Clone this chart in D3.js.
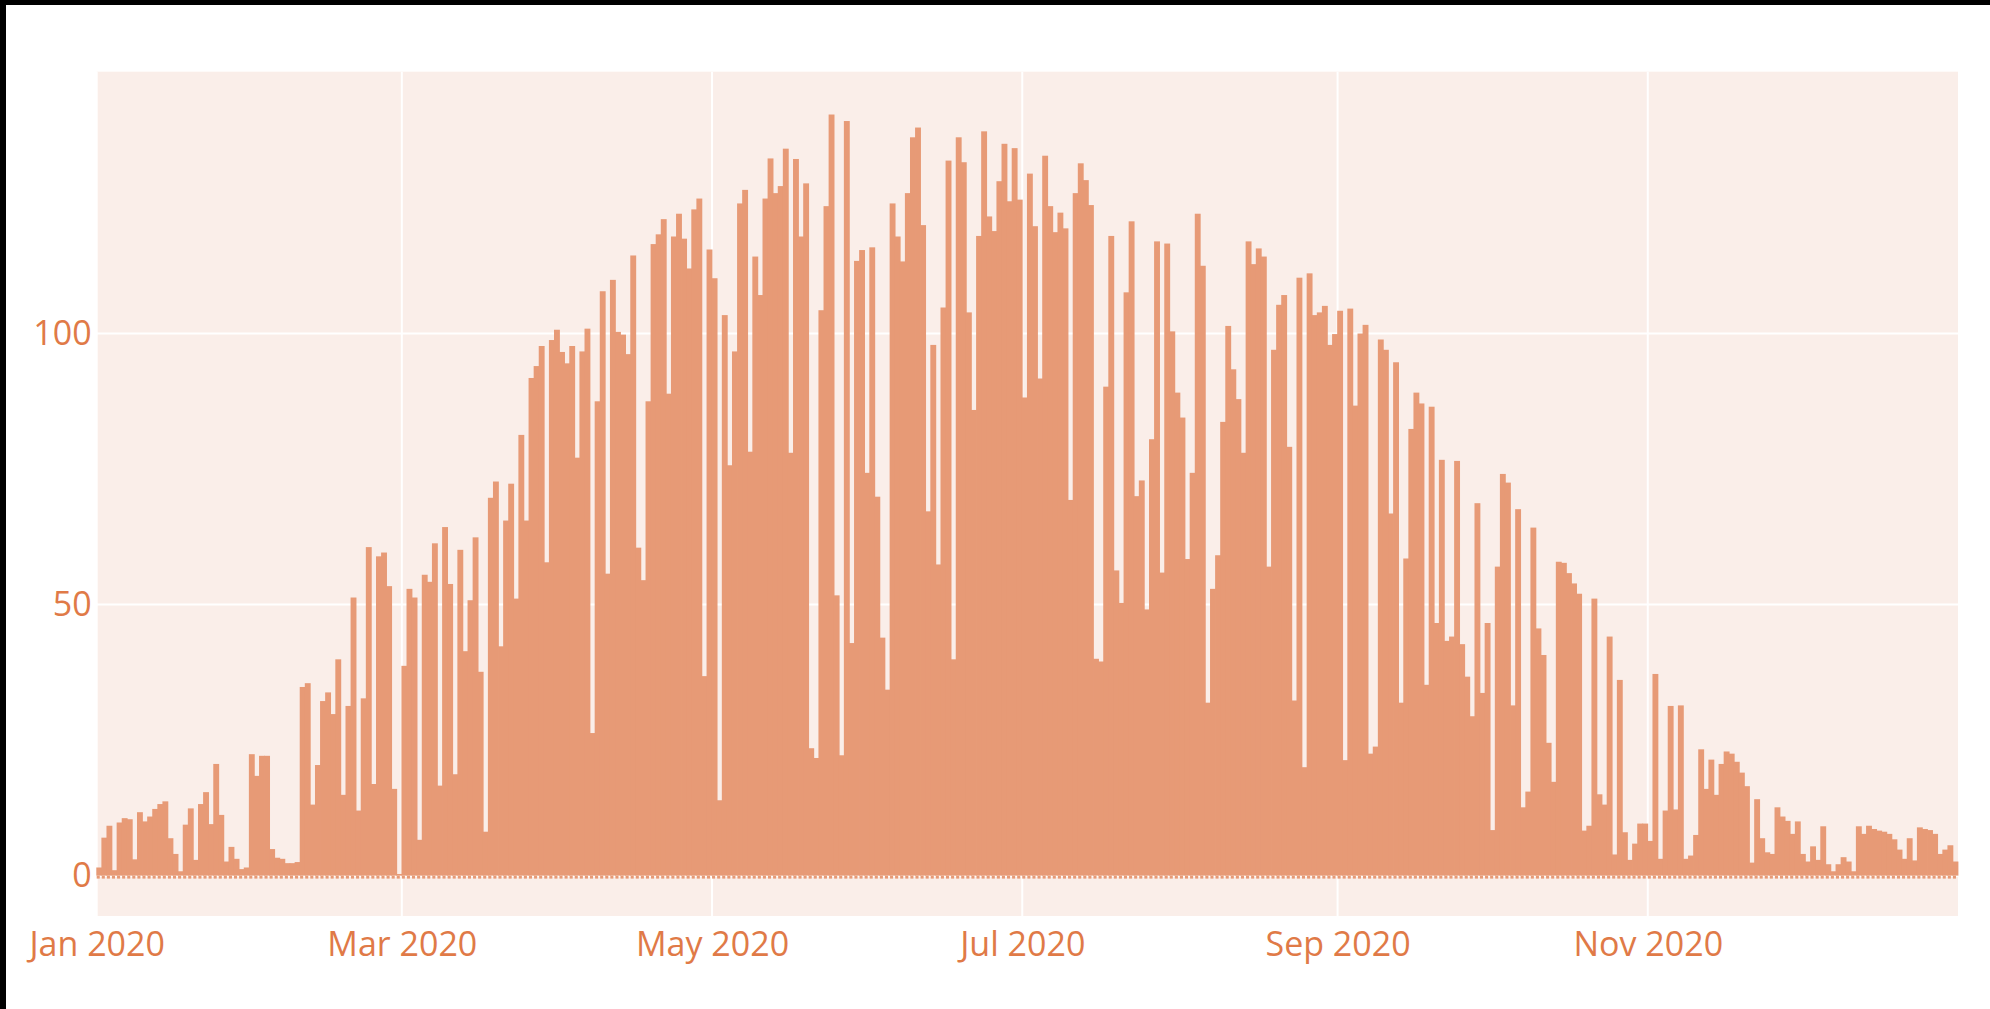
<!DOCTYPE html>
<html>
<head>
<meta charset="utf-8">
<script src="https://cdn.jsdelivr.net/npm/d3@7"></script>
<style>
  html, body { margin: 0; padding: 0; background: #fff; }
  svg { display: block; }
</style>
</head>
<body>
<div id="chart"></div>
<script>
// daily values, one array per month (2020)
const janValues = [1.5, 7, 9.2, 1, 9.8, 10.6, 10.4, 3.0, 11.7, 10.0, 10.9, 12.3, 13.2, 13.7, 6.9, 4.0, 0.8, 9.4, 12.4, 2.9, 13.2, 15.4, 9.5, 20.6, 11.2, 2.6, 5.3, 3.1, 1.2, 1.5, 22.4];
const febValues = [18.4, 22.1, 22.1, 4.9, 3.3, 3.1, 2.3, 2.3, 2.5, 34.8, 35.5, 13.1, 20.4, 32.2, 33.8, 29.8, 39.9, 14.9, 31.3, 51.3, 12.0, 32.7, 60.6, 16.9, 58.9, 59.6, 53.4, 16.0, 0.3];
const marValues = [38.7, 52.9, 51.3, 6.6, 55.5, 54.2, 61.3, 16.6, 64.3, 53.8, 18.7, 60.1, 41.4, 50.8, 62.4, 37.6, 8.1, 69.7, 72.7, 42.3, 65.5, 72.3, 51.1, 81.3, 65.5, 91.8, 94.0, 97.7, 57.8, 98.8, 100.7];
const aprValues = [96.6, 94.5, 97.7, 77.1, 96.7, 100.9, 26.3, 87.5, 107.8, 55.7, 109.9, 100.3, 99.8, 96.2, 114.4, 60.5, 54.5, 87.5, 116.5, 118.3, 121.1, 88.9, 117.9, 122.1, 117.5, 112.0, 122.9, 124.9, 36.8, 115.5];
const mayValues = [110.2, 13.9, 103.4, 75.7, 96.7, 124.0, 126.5, 78.2, 114.2, 107.1, 124.9, 132.3, 125.9, 127.2, 134.1, 78.0, 132.2, 117.9, 127.7, 23.5, 21.7, 104.3, 123.5, 140.4, 51.7, 22.2, 139.2, 42.9, 113.4, 115.4, 74.3];
const junValues = [115.9, 69.9, 43.9, 34.3, 124.0, 117.9, 113.3, 125.9, 136.2, 138.0, 120.0, 67.2, 97.9, 57.4, 104.8, 131.9, 39.9, 136.2, 131.6, 103.9, 85.9, 118.0, 137.3, 121.6, 118.9, 128.1, 135.0, 124.4, 134.2, 124.7];
const julValues = [88.2, 129.5, 119.8, 91.7, 132.8, 123.5, 118.7, 122.3, 119.4, 69.3, 125.9, 131.4, 128.3, 123.7, 40.0, 39.5, 90.2, 118.0, 56.3, 50.3, 107.6, 120.7, 70.0, 72.9, 49.1, 80.5, 117.0, 55.9, 116.6, 100.4, 89.1];
const augValues = [84.5, 58.4, 74.3, 122.1, 112.5, 31.9, 52.9, 59.1, 83.7, 101.4, 93.4, 87.9, 78.0, 117.0, 112.8, 115.7, 114.2, 57.0, 97.0, 105.3, 107.1, 79.1, 32.3, 110.3, 20.0, 111.1, 103.4, 103.9, 105.1, 97.9, 99.9];
const sepValues = [104.2, 21.3, 104.6, 86.7, 100.0, 101.6, 22.5, 23.8, 98.9, 97.0, 66.8, 94.7, 31.9, 58.5, 82.4, 89.1, 87.1, 35.2, 86.5, 46.6, 76.7, 43.3, 44.1, 76.5, 42.7, 36.7, 29.4, 68.7, 33.7, 46.6];
const octValues = [8.4, 57.0, 74.1, 72.5, 31.4, 67.6, 12.6, 15.5, 64.2, 45.6, 40.7, 24.5, 17.3, 57.9, 57.7, 55.8, 53.9, 52.0, 8.3, 9.2, 51.1, 15.0, 13.1, 44.1, 3.9, 36.1, 8.0, 2.9, 5.9, 9.6, 9.6];
const novValues = [6.4, 37.2, 3.1, 12.0, 31.3, 12.2, 31.4, 3.1, 3.7, 7.5, 23.3, 16.0, 21.4, 14.9, 20.6, 22.9, 22.5, 21.0, 19.0, 16.5, 2.4, 14.1, 6.9, 4.3, 4.0, 12.6, 10.9, 10.1, 7.7, 10.0];
const decValues = [4.0, 2.6, 5.4, 2.9, 9.1, 2.1, 0.8, 2.1, 3.4, 2.6, 0.8, 9.1, 7.7, 9.2, 8.6, 8.3, 8.1, 7.7, 6.7, 4.8, 3.1, 6.9, 2.8, 8.9, 8.6, 8.4, 7.7, 4.0, 4.8, 5.6, 2.6];

// small negative night-time reading shown under the baseline
const nightValue = -0.55;

const xTickDates = ["2020-01-01", "2020-03-01", "2020-05-01", "2020-07-01", "2020-09-01", "2020-11-01"];
const yTickValues = [0, 50, 100];
const yDomain = [-7.45, 148.3];

const values = [janValues, febValues, marValues, aprValues, mayValues, junValues,
                julValues, augValues, sepValues, octValues, novValues, decValues].flat();
const days = d3.timeDay.range(new Date(2020, 0, 1), new Date(2021, 0, 1));
const data = days.map((date, i) => ({ date, value: values[i] }));

const W = 1990, H = 1009;
const margin = { top: 71.7, right: 32, bottom: 93, left: 96.7 };
const width = W - margin.left - margin.right;
const height = H - margin.top - margin.bottom;

const barColor = "#e79a76";
const bgColor = "#faeee9";
const textColor = "#e07a47";

const svg = d3.select("#chart").append("svg")
    .attr("width", W)
    .attr("height", H);

// black frame edges from the screenshot
svg.append("rect").attr("x", 0).attr("y", 0).attr("width", W).attr("height", 5).attr("fill", "#000");
svg.append("rect").attr("x", 0).attr("y", 0).attr("width", 6).attr("height", H).attr("fill", "#000");

const g = svg.append("g").attr("transform", `translate(${margin.left},${margin.top})`);

const x = d3.scaleTime()
    .domain([new Date(2020, 0, 1), new Date(2021, 0, 1)])
    .range([0, width]);

const y = d3.scaleLinear()
    .domain(yDomain)
    .range([height, 0]);

g.append("rect")
    .attr("width", width)
    .attr("height", height)
    .attr("fill", bgColor);

// grid
const tickDates = xTickDates.map(s => d3.timeParse("%Y-%m-%d")(s));
g.append("g")
    .selectAll("line")
    .data(tickDates)
    .join("line")
    .attr("x1", d => x(d)).attr("x2", d => x(d))
    .attr("y1", 0).attr("y2", height)
    .attr("stroke", "#fff")
    .attr("stroke-width", 2);

g.append("g")
    .selectAll("line")
    .data(yTickValues)
    .join("line")
    .attr("x1", 0).attr("x2", width)
    .attr("y1", d => y(d)).attr("y2", d => y(d))
    .attr("stroke", "#fff")
    .attr("stroke-width", d => d === 0 ? 3 : 2);

// bars
g.append("g")
    .selectAll("rect")
    .data(data)
    .join("rect")
    .attr("x", d => x(d.date) - 0.4)
    .attr("width", d => x(d3.timeDay.offset(d.date, 1)) - x(d.date) + 0.8)
    .attr("y", d => y(d.value))
    .attr("height", d => y(0) - y(d.value))
    .attr("fill", barColor);

// night stubs below zero
g.append("g")
    .selectAll("rect")
    .data(days)
    .join("rect")
    .attr("x", d => x(d))
    .attr("width", d => (x(d3.timeDay.offset(d, 1)) - x(d)) * 0.6)
    .attr("y", y(0))
    .attr("height", y(nightValue) - y(0))
    .attr("fill", barColor);

// axes
const xAxis = g.append("g")
    .attr("transform", `translate(0,${height})`)
    .call(d3.axisBottom(x).tickValues(tickDates).tickFormat(d3.timeFormat("%b %Y")).tickSize(0).tickPadding(16));
xAxis.select(".domain").remove();
xAxis.selectAll("text")
    .attr("fill", textColor)
    .style("font-family", "'Open Sans', sans-serif")
    .style("font-size", "34px");

const yAxis = g.append("g")
    .call(d3.axisLeft(y).tickValues(yTickValues).tickSize(0).tickPadding(5));
yAxis.select(".domain").remove();
yAxis.selectAll("text")
    .attr("fill", textColor)
    .style("font-family", "'Open Sans', sans-serif")
    .style("font-size", "34px");
</script>
</body>
</html>
